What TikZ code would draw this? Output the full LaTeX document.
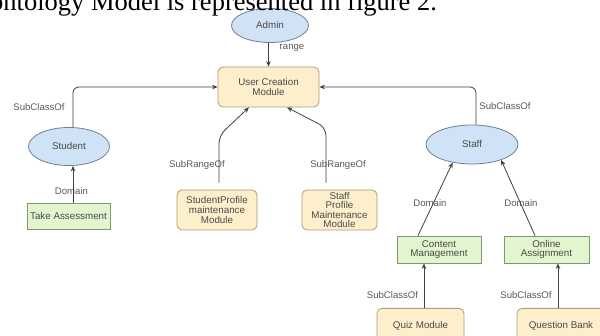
\documentclass[tikz,border=0pt]{standalone}
\usepackage{fontspec}
\setmainfont{Liberation Serif}
\newfontfamily\ars{Liberation Sans}
\usetikzlibrary{shapes.geometric,arrows.meta}
\definecolor{ellfill}{HTML}{CFE2F6}
\definecolor{elldraw}{HTML}{6E7F95}
\definecolor{yelfill}{HTML}{FDEFCB}
\definecolor{yeldraw}{HTML}{B09E72}
\definecolor{grnfill}{HTML}{E1F5CE}
\definecolor{grndraw}{HTML}{7F9A6E}
\definecolor{linec}{HTML}{404040}
\definecolor{txtc}{HTML}{4A4A4A}
\definecolor{lblc}{HTML}{5A5A5A}
\tikzset{
  base/.style={inner sep=0pt, align=center, text=txtc, font=\ars\fontsize{9.8}{9.6}\selectfont, line width=0.8pt},
  ellnode/.style={base, ellipse, draw=elldraw, fill=ellfill},
  yelbox/.style={base, rectangle, rounded corners=5pt, draw=yeldraw, fill=yelfill},
  grnbox/.style={base, rectangle, draw=grndraw, fill=grnfill},
  lbl/.style={inner sep=0pt, text=lblc, font=\ars\fontsize{9.6}{10}\selectfont},
  arr/.style={draw=linec, line width=0.8pt, -{Stealth[length=5.5pt,width=4.5pt]}}
}
\begin{document}
\begin{tikzpicture}[x=1pt,y=-1pt]
\useasboundingbox (0,0) rectangle (600,336);
\clip (0,0) rectangle (600,336);
\fill[white] (0,0) rectangle (600,336);
% nodes
\node[ellnode, minimum width=77pt, minimum height=34pt] (admin) at (270,25.5) {Admin};
\node[yelbox, minimum width=101pt, minimum height=40pt] (ucm) at (268.5,87) {User Creation\\Module};
\node[ellnode, minimum width=81pt, minimum height=38pt] (student) at (69,146.5) {Student};
\node[ellnode, minimum width=92pt, minimum height=39pt] (staff) at (472,144.5) {Staff};
\node[grnbox, minimum width=83pt, minimum height=26pt] (take) at (68.5,216) {Take Assessment};
\node[yelbox, minimum width=80pt, minimum height=40pt] (sprof) at (217,210) {StudentProfile\\maintenance\\Module};
\node[yelbox, minimum width=75pt, minimum height=40pt] (stprof) at (339.5,210) {Staff\\Profile\\Maintenance\\Module};
\node[grnbox, minimum width=84pt, minimum height=27pt] (cm) at (439,249.5) {Content\\Management};
\node[grnbox, minimum width=85pt, minimum height=27pt] (oa) at (546.5,249.5) {Online\\Assignment};
\node[yelbox, minimum width=87pt, minimum height=34pt, anchor=north] (quiz) at (420.5,308) {\raisebox{-1pt}{Quiz Module}};
\node[yelbox, minimum width=88pt, minimum height=34pt, anchor=north] (qb) at (561,308) {\raisebox{-1pt}{Question Bank}};
% labels
\node[lbl] (lrange) at (292,48) {range};
\node[lbl] (lsc1) at (39,107) {SubClassOf};
\node[lbl] (lsc2) at (505,106) {SubClassOf};
\node[lbl] (lsr1) at (197,165) {SubRangeOf};
\node[lbl] (lsr2) at (338,165) {SubRangeOf};
\node[lbl] (ldom1) at (71.5,191) {Domain};
\node[lbl] (ldom2) at (430,203) {Domain};
\node[lbl] (ldom3) at (521,203) {Domain};
\node[lbl] (lsc3) at (392.5,295) {SubClassOf};
\node[lbl] (lsc4) at (526,295) {SubClassOf};
% connectors
\draw[arr] (ucm.north |- admin.south) -- (ucm.north);
\draw[arr, rounded corners=6pt] ([xshift=4pt]student.north) |- (ucm.west);
\draw[arr, rounded corners=6pt] ([xshift=4pt]staff.north) |- (ucm.east);
\draw[arr] ([xshift=4.5pt]take.north) -- ([xshift=4pt]student.south);
\draw[arr, rounded corners=8pt] ([xshift=2pt,yshift=7pt]sprof.north) -- ++(0,-47) -- ([xshift=-19.5pt]ucm.south);
\draw[arr, rounded corners=8pt] ([xshift=-13.5pt,yshift=7pt]stprof.north) -- ++(0,-55) -- ([xshift=18.5pt]ucm.south);
\draw[arr] ([xshift=-21pt]cm.north) -- (staff.223);
\draw[arr] ([xshift=-11.5pt]oa.north) -- (staff.-28);
\draw[arr] ([xshift=3.5pt]quiz.north) -- ([xshift=3.5pt]quiz.north |- cm.south);
\draw[arr] ([xshift=-3pt]qb.north) -- ([xshift=-3pt]qb.north |- oa.south);
% header text (clipped at the top, drawn over the diagram)
\node[anchor=base west, inner sep=0pt, font=\fontsize{26.5}{30}\selectfont] (head) at (-10,11) {ontology Model is represented in figure 2.};
\end{tikzpicture}
\end{document}
